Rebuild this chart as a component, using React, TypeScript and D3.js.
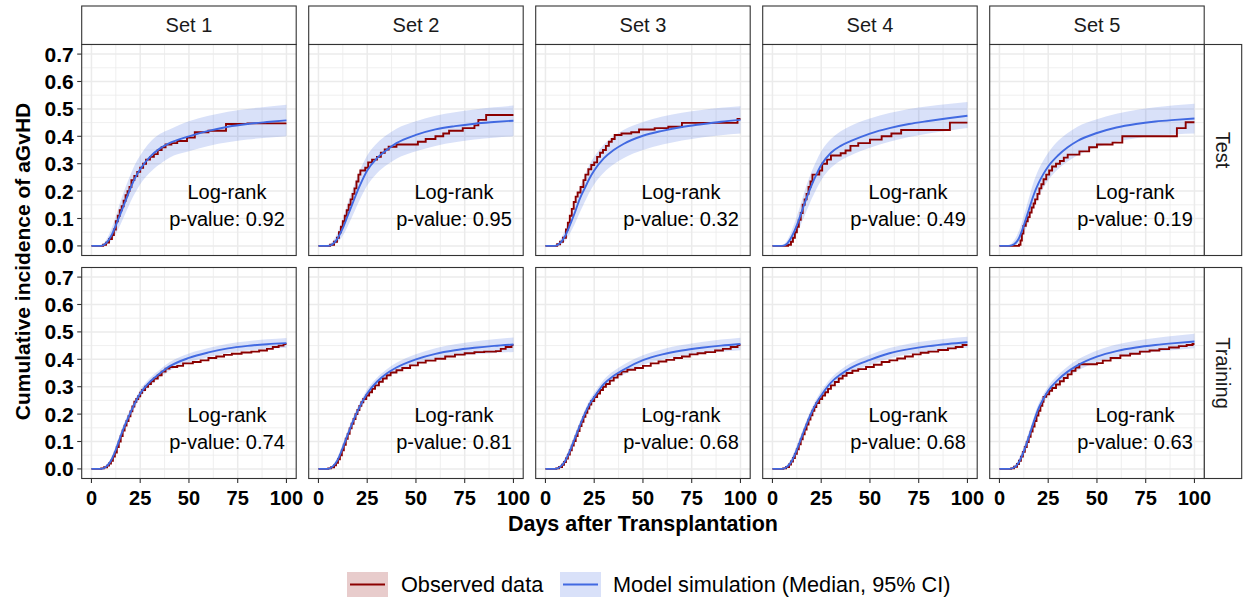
import React from 'react';
import * as d3 from 'd3';

// ---- data ----
const sets = ['Set 1', 'Set 2', 'Set 3', 'Set 4', 'Set 5'];
const rows = ['Test', 'Training'];
const xTicks = [0, 25, 50, 75, 100];
const yTicks = [0, 0.1, 0.2, 0.3, 0.4, 0.5, 0.6, 0.7];

// model simulation grid (days)
const simDays = [0, 5, 7.5, 10, 12.5, 15, 17.5, 20, 22.5, 25, 30, 35, 40, 50, 60, 70, 80, 90, 100];

// Test row: median / 95% CI
const testMed1 = [0, 0, 0.01, 0.035, 0.075, 0.12, 0.165, 0.21, 0.25, 0.28, 0.325, 0.355, 0.375, 0.4, 0.42, 0.435, 0.445, 0.452, 0.458];
const testLo1 = [0, 0, 0.003, 0.018, 0.045, 0.08, 0.12, 0.16, 0.195, 0.225, 0.268, 0.298, 0.322, 0.345, 0.365, 0.378, 0.388, 0.395, 0.4];
const testHi1 = [0, 0.004, 0.022, 0.058, 0.108, 0.165, 0.215, 0.26, 0.3, 0.33, 0.378, 0.408, 0.425, 0.455, 0.475, 0.49, 0.5, 0.508, 0.515];

const testMed2 = [0, 0, 0.008, 0.03, 0.065, 0.11, 0.155, 0.2, 0.24, 0.275, 0.32, 0.35, 0.375, 0.405, 0.425, 0.437, 0.446, 0.452, 0.457];
const testLo2 = [0, 0, 0.002, 0.014, 0.038, 0.072, 0.11, 0.15, 0.188, 0.22, 0.265, 0.295, 0.318, 0.345, 0.365, 0.378, 0.388, 0.395, 0.4];
const testHi2 = [0, 0.004, 0.02, 0.052, 0.1, 0.155, 0.205, 0.255, 0.295, 0.33, 0.375, 0.405, 0.428, 0.455, 0.475, 0.488, 0.498, 0.506, 0.512];

const testMed3 = [0, 0, 0.01, 0.035, 0.075, 0.12, 0.17, 0.208, 0.245, 0.275, 0.32, 0.35, 0.372, 0.402, 0.42, 0.434, 0.444, 0.453, 0.46];
const testLo3 = [0, 0, 0.003, 0.017, 0.045, 0.08, 0.12, 0.158, 0.195, 0.225, 0.268, 0.298, 0.32, 0.35, 0.37, 0.385, 0.396, 0.404, 0.41];
const testHi3 = [0, 0.004, 0.022, 0.058, 0.105, 0.16, 0.21, 0.255, 0.295, 0.325, 0.37, 0.4, 0.423, 0.452, 0.472, 0.486, 0.496, 0.504, 0.51];

const testMed4 = [0, 0, 0.008, 0.035, 0.075, 0.125, 0.175, 0.22, 0.26, 0.295, 0.34, 0.365, 0.382, 0.41, 0.43, 0.445, 0.456, 0.466, 0.475];
const testLo4 = [0, 0, 0.002, 0.017, 0.045, 0.085, 0.128, 0.17, 0.207, 0.24, 0.285, 0.312, 0.33, 0.358, 0.38, 0.397, 0.41, 0.42, 0.43];
const testHi4 = [0, 0.004, 0.02, 0.058, 0.108, 0.165, 0.222, 0.27, 0.31, 0.345, 0.39, 0.418, 0.438, 0.465, 0.485, 0.5, 0.51, 0.518, 0.525];

const testMed5 = [0, 0, 0.006, 0.028, 0.075, 0.13, 0.185, 0.228, 0.262, 0.29, 0.33, 0.36, 0.383, 0.412, 0.432, 0.445, 0.454, 0.46, 0.465];
const testLo5 = [0, 0, 0.001, 0.012, 0.045, 0.09, 0.14, 0.178, 0.212, 0.24, 0.28, 0.308, 0.33, 0.36, 0.38, 0.393, 0.402, 0.407, 0.41];
const testHi5 = [0, 0.004, 0.02, 0.055, 0.11, 0.172, 0.232, 0.278, 0.312, 0.34, 0.383, 0.412, 0.435, 0.462, 0.482, 0.496, 0.506, 0.513, 0.519];

// Training row: median / 95% CI
const trainMed1 = [0, 0, 0.008, 0.03, 0.07, 0.12, 0.165, 0.205, 0.243, 0.275, 0.318, 0.348, 0.374, 0.405, 0.425, 0.44, 0.449, 0.455, 0.459];
const trainLo1 = [0, 0, 0.004, 0.021, 0.058, 0.105, 0.15, 0.19, 0.228, 0.26, 0.303, 0.333, 0.358, 0.389, 0.408, 0.423, 0.432, 0.438, 0.442];
const trainHi1 = [0, 0.002, 0.013, 0.04, 0.083, 0.135, 0.18, 0.22, 0.257, 0.289, 0.332, 0.362, 0.389, 0.421, 0.441, 0.457, 0.466, 0.473, 0.478];

const trainMed2 = [0, 0, 0.01, 0.035, 0.078, 0.125, 0.17, 0.21, 0.245, 0.275, 0.318, 0.348, 0.37, 0.4, 0.42, 0.433, 0.442, 0.449, 0.454];
const trainLo2 = [0, 0, 0.005, 0.025, 0.065, 0.11, 0.155, 0.195, 0.23, 0.26, 0.303, 0.332, 0.354, 0.383, 0.401, 0.412, 0.418, 0.423, 0.427];
const trainHi2 = [0, 0.002, 0.016, 0.046, 0.092, 0.14, 0.185, 0.225, 0.26, 0.29, 0.333, 0.364, 0.387, 0.418, 0.44, 0.455, 0.465, 0.473, 0.48];

const trainMed3 = [0, 0, 0.007, 0.028, 0.065, 0.11, 0.155, 0.198, 0.235, 0.262, 0.31, 0.34, 0.362, 0.397, 0.418, 0.432, 0.442, 0.45, 0.456];
const trainLo3 = [0, 0, 0.003, 0.018, 0.052, 0.095, 0.14, 0.183, 0.22, 0.247, 0.294, 0.323, 0.344, 0.379, 0.399, 0.412, 0.421, 0.428, 0.433];
const trainHi3 = [0, 0.002, 0.014, 0.04, 0.08, 0.126, 0.17, 0.213, 0.25, 0.277, 0.326, 0.357, 0.38, 0.415, 0.437, 0.452, 0.463, 0.472, 0.479];

const trainMed4 = [0, 0, 0.008, 0.03, 0.07, 0.117, 0.163, 0.205, 0.24, 0.268, 0.315, 0.345, 0.368, 0.398, 0.422, 0.437, 0.448, 0.456, 0.462];
const trainLo4 = [0, 0, 0.003, 0.019, 0.056, 0.101, 0.148, 0.19, 0.225, 0.252, 0.299, 0.328, 0.35, 0.379, 0.403, 0.418, 0.428, 0.436, 0.442];
const trainHi4 = [0, 0.002, 0.015, 0.043, 0.085, 0.133, 0.178, 0.22, 0.255, 0.284, 0.331, 0.362, 0.386, 0.417, 0.441, 0.457, 0.468, 0.476, 0.482];

const trainMed5 = [0, 0, 0.005, 0.025, 0.065, 0.115, 0.17, 0.22, 0.255, 0.285, 0.325, 0.355, 0.378, 0.41, 0.43, 0.443, 0.452, 0.459, 0.465];
const trainLo5 = [0, 0, 0.002, 0.015, 0.05, 0.098, 0.153, 0.203, 0.238, 0.268, 0.308, 0.337, 0.358, 0.389, 0.408, 0.42, 0.428, 0.434, 0.44];
const trainHi5 = [0, 0.002, 0.012, 0.038, 0.082, 0.133, 0.188, 0.237, 0.272, 0.302, 0.343, 0.374, 0.398, 0.432, 0.454, 0.468, 0.478, 0.486, 0.493];

// observed cumulative incidence: [day, value] step points
const testObs1: [number, number][] = [[0, 0], [6, 0.004], [7.5, 0.012], [9, 0.025], [10.5, 0.04], [11.5, 0.06], [12.5, 0.09], [13.5, 0.11], [14.5, 0.13], [15.5, 0.145], [16.5, 0.165], [17.5, 0.185], [18.5, 0.2], [19.5, 0.215], [20.5, 0.24], [22, 0.255], [23.5, 0.27], [25, 0.285], [26.5, 0.3], [28, 0.315], [30, 0.325], [32, 0.335], [34, 0.35], [36, 0.36], [38, 0.37], [41, 0.375], [44, 0.383], [49, 0.395], [53, 0.415], [60, 0.42], [69, 0.445], [80, 0.447]];
const testObs2: [number, number][] = [[0, 0], [6, 0.004], [8, 0.015], [9.5, 0.03], [10.5, 0.05], [11.5, 0.07], [12.5, 0.09], [13.5, 0.11], [14.5, 0.13], [15.5, 0.15], [16.5, 0.17], [17.5, 0.19], [18.5, 0.21], [19.5, 0.235], [20.5, 0.26], [21.5, 0.275], [24, 0.285], [25.5, 0.305], [27.5, 0.315], [30, 0.325], [32, 0.34], [34, 0.352], [36, 0.362], [40, 0.37], [51, 0.38], [55, 0.39], [60, 0.4], [64, 0.41], [67, 0.42], [74, 0.43], [80, 0.44], [82, 0.46], [86, 0.478]];
const testObs3: [number, number][] = [[0, 0], [6, 0.006], [7.5, 0.015], [9, 0.03], [10.5, 0.06], [11.5, 0.085], [12.5, 0.11], [13.5, 0.135], [14.5, 0.16], [15.5, 0.18], [16.5, 0.195], [18, 0.215], [19.5, 0.24], [20.5, 0.26], [22, 0.28], [23.5, 0.295], [25, 0.305], [26.5, 0.325], [28, 0.34], [29.5, 0.35], [31, 0.365], [32.5, 0.38], [34, 0.39], [35.5, 0.405], [39, 0.41], [44, 0.415], [48, 0.425], [56, 0.43], [63, 0.435], [70, 0.449], [98.5, 0.463]];
const testObs4: [number, number][] = [[0, 0], [8, 0.004], [9.5, 0.015], [10.5, 0.03], [11.5, 0.05], [12.5, 0.07], [13.5, 0.095], [14.5, 0.12], [15.5, 0.15], [16.5, 0.17], [17.5, 0.19], [18.5, 0.215], [19.5, 0.235], [20.5, 0.26], [24, 0.275], [25.5, 0.3], [28, 0.315], [30, 0.33], [35, 0.338], [37.5, 0.348], [40, 0.365], [44, 0.375], [50, 0.388], [56, 0.4], [61, 0.41], [66, 0.423], [91, 0.45]];
const testObs5: [number, number][] = [[0, 0], [10, 0.004], [10.8, 0.02], [11.5, 0.045], [12.3, 0.073], [13.5, 0.09], [14.5, 0.105], [15.5, 0.122], [16.5, 0.14], [17.5, 0.155], [18.3, 0.17], [19.5, 0.19], [20.5, 0.21], [21.5, 0.225], [22.6, 0.243], [24, 0.26], [25.5, 0.275], [27, 0.29], [29, 0.3], [31, 0.31], [33, 0.322], [35, 0.333], [41, 0.345], [46, 0.36], [50, 0.37], [58, 0.377], [63, 0.4], [91, 0.43], [95.5, 0.451]];

const trainObs1: [number, number][] = [[0, 0], [5, 0.002], [6.5, 0.006], [8, 0.012], [9, 0.02], [10, 0.03], [11, 0.045], [12, 0.06], [13, 0.08], [14, 0.1], [15, 0.12], [16, 0.14], [17, 0.158], [18, 0.175], [19, 0.192], [20, 0.21], [21, 0.228], [22, 0.245], [23, 0.255], [24, 0.265], [25, 0.278], [26, 0.288], [27.5, 0.3], [29, 0.31], [30.5, 0.32], [32, 0.33], [34, 0.342], [36, 0.355], [38, 0.366], [40, 0.372], [44, 0.376], [47, 0.385], [52, 0.39], [56, 0.396], [60, 0.405], [64, 0.41], [68, 0.416], [72, 0.42], [77, 0.425], [82, 0.428], [86, 0.432], [90, 0.438], [93, 0.445], [96, 0.45], [98.5, 0.456]];
const trainObs2: [number, number][] = [[0, 0], [5, 0.002], [6.5, 0.006], [8, 0.013], [9, 0.022], [10, 0.035], [11, 0.05], [12, 0.068], [13, 0.088], [14, 0.11], [15, 0.128], [16, 0.148], [17, 0.165], [18, 0.182], [19, 0.2], [20, 0.215], [21, 0.23], [22, 0.243], [23, 0.255], [24.5, 0.268], [26, 0.28], [27.5, 0.292], [29, 0.305], [31, 0.318], [33, 0.33], [35, 0.342], [37, 0.352], [40, 0.36], [43, 0.368], [47, 0.378], [51, 0.388], [55, 0.395], [60, 0.402], [65, 0.41], [70, 0.417], [75, 0.422], [80, 0.426], [85, 0.428], [91, 0.43], [93.5, 0.438], [96, 0.445], [99, 0.452]];
const trainObs3: [number, number][] = [[0, 0], [5.5, 0.002], [7, 0.007], [8.5, 0.015], [9.5, 0.025], [10.5, 0.038], [11.5, 0.052], [12.5, 0.068], [13.5, 0.085], [14.5, 0.102], [15.5, 0.12], [16.5, 0.138], [17.5, 0.156], [18.5, 0.172], [19.5, 0.19], [20.5, 0.205], [21.5, 0.22], [22.5, 0.235], [23.5, 0.248], [25, 0.262], [26.5, 0.275], [28, 0.288], [29.5, 0.3], [31, 0.31], [33, 0.322], [35, 0.333], [37, 0.345], [39, 0.355], [42, 0.362], [46, 0.368], [50, 0.376], [54, 0.385], [58, 0.392], [62, 0.398], [66, 0.405], [70, 0.41], [74, 0.418], [78, 0.422], [82, 0.426], [87, 0.432], [91, 0.438], [95, 0.445], [98.5, 0.452]];
const trainObs4: [number, number][] = [[0, 0], [5.5, 0.002], [7, 0.007], [8.5, 0.016], [9.5, 0.027], [10.5, 0.04], [11.5, 0.055], [12.5, 0.072], [13.5, 0.09], [14.5, 0.108], [15.5, 0.126], [16.5, 0.144], [17.5, 0.162], [18.5, 0.18], [19.5, 0.196], [20.5, 0.212], [21.5, 0.226], [22.5, 0.24], [24, 0.255], [25.5, 0.268], [27, 0.28], [28.5, 0.292], [30, 0.305], [32, 0.317], [34, 0.33], [36, 0.34], [38, 0.35], [41, 0.358], [44, 0.364], [48, 0.372], [52, 0.38], [56, 0.39], [60, 0.396], [64, 0.403], [68, 0.41], [72, 0.418], [76, 0.424], [80, 0.428], [85, 0.434], [90, 0.44], [94, 0.445], [97.5, 0.452]];
const trainObs5: [number, number][] = [[0, 0], [6, 0.002], [7.5, 0.008], [9, 0.018], [10, 0.03], [11, 0.045], [12, 0.062], [13, 0.08], [14, 0.098], [15, 0.117], [16, 0.136], [17, 0.155], [18, 0.175], [19, 0.195], [20, 0.212], [21, 0.23], [22, 0.245], [22.6, 0.263], [24, 0.272], [25.5, 0.285], [27, 0.295], [29, 0.308], [31, 0.32], [33, 0.332], [35, 0.345], [37, 0.358], [39, 0.37], [41, 0.382], [50, 0.386], [53, 0.395], [57, 0.405], [62, 0.414], [67, 0.42], [72, 0.428], [77, 0.432], [82, 0.437], [87, 0.443], [92, 0.448], [96, 0.452], [99, 0.456]];

const testPValues = ['0.92', '0.95', '0.32', '0.49', '0.19'];
const trainPValues = ['0.74', '0.81', '0.68', '0.68', '0.63'];

const testMed = [testMed1, testMed2, testMed3, testMed4, testMed5];
const testLo = [testLo1, testLo2, testLo3, testLo4, testLo5];
const testHi = [testHi1, testHi2, testHi3, testHi4, testHi5];
const testObs = [testObs1, testObs2, testObs3, testObs4, testObs5];
const trainMed = [trainMed1, trainMed2, trainMed3, trainMed4, trainMed5];
const trainLo = [trainLo1, trainLo2, trainLo3, trainLo4, trainLo5];
const trainHi = [trainHi1, trainHi2, trainHi3, trainHi4, trainHi5];
const trainObs = [trainObs1, trainObs2, trainObs3, trainObs4, trainObs5];

// ---- layout ----
const W = 1243;
const H = 598;
const panelLeft = 81.7;
const panelStep = 227;
const panelW = 214.5;
const rowTop = [44.5, 267.5];
const panelH = 211;
const stripTop = 6;
const stripRightW = 37.5;

const FONT = '"Liberation Sans", Arial, Helvetica, sans-serif';
const OBS_COL = '#8B0000';
const SIM_COL = '#4169E1';
const GRID = '#ebebeb';
const DARK = '#333333';

const Panel = ({ col, row }: { col: number; row: number }) => {
  const x0 = panelLeft + col * panelStep;
  const y0 = rowTop[row];
  const x = d3.scaleLinear().domain([-5, 105]).range([x0, x0 + panelW]);
  const y = d3.scaleLinear().domain([-0.035, 0.735]).range([y0 + panelH, y0]);

  const med = row === 0 ? testMed[col] : trainMed[col];
  const lo = row === 0 ? testLo[col] : trainLo[col];
  const hi = row === 0 ? testHi[col] : trainHi[col];
  const obsRaw = row === 0 ? testObs[col] : trainObs[col];
  const obs: [number, number][] = [...obsRaw, [100, obsRaw[obsRaw.length - 1][1]]];
  const p = row === 0 ? testPValues[col] : trainPValues[col];

  const idx = simDays.map((_, i) => i);
  const ribbon = d3.area<number>()
    .x(i => x(simDays[i]))
    .y0(i => y(lo[i]))
    .y1(i => y(hi[i]))
    .curve(d3.curveMonotoneX)(idx);
  const medLine = d3.line<number>()
    .x(i => x(simDays[i]))
    .y(i => y(med[i]))
    .curve(d3.curveMonotoneX)(idx);
  const obsLine = d3.line<[number, number]>()
    .x(d => x(d[0]))
    .y(d => y(d[1]))
    .curve(d3.curveStepAfter)(obs);

  const minorX = [12.5, 37.5, 62.5, 87.5];
  const minorY = [0.05, 0.15, 0.25, 0.35, 0.45, 0.55, 0.65];

  const textX = x(69.5);
  const textY = y(0.172);

  return (
    <g>
      <rect x={x0} y={y0} width={panelW} height={panelH} fill="white" />
      {minorX.map(v => (
        <line key={'mx' + v} x1={x(v)} x2={x(v)} y1={y0} y2={y0 + panelH} stroke={GRID} strokeWidth={0.8} />
      ))}
      {minorY.map(v => (
        <line key={'my' + v} x1={x0} x2={x0 + panelW} y1={y(v)} y2={y(v)} stroke={GRID} strokeWidth={0.8} />
      ))}
      {xTicks.map(v => (
        <line key={'gx' + v} x1={x(v)} x2={x(v)} y1={y0} y2={y0 + panelH} stroke={GRID} strokeWidth={1.5} />
      ))}
      {yTicks.map(v => (
        <line key={'gy' + v} x1={x0} x2={x0 + panelW} y1={y(v)} y2={y(v)} stroke={GRID} strokeWidth={1.5} />
      ))}
      <path d={ribbon || ''} fill={SIM_COL} fillOpacity={0.2} />
      <path d={obsLine || ''} fill="none" stroke={OBS_COL} strokeWidth={1.9} />
      <path d={medLine || ''} fill="none" stroke={SIM_COL} strokeWidth={1.9} />
      <text x={textX} y={textY} textAnchor="middle" fontSize={20} fill="#000">Log-rank</text>
      <text x={textX} y={textY + 27.4} textAnchor="middle" fontSize={20} fill="#000">{`p-value: ${p}`}</text>
      <rect x={x0} y={y0} width={panelW} height={panelH} fill="none" stroke={DARK} strokeWidth={1.1} />
      {col === 0 && yTicks.map(v => (
        <g key={'yt' + v}>
          <line x1={x0 - 4.5} x2={x0} y1={y(v)} y2={y(v)} stroke={DARK} strokeWidth={1.1} />
          <text x={x0 - 8} y={y(v)} dy="0.36em" textAnchor="end" fontSize={21} fontWeight="bold" fill="#000">{v.toFixed(1)}</text>
        </g>
      ))}
      {row === 1 && xTicks.map(v => (
        <g key={'xt' + v}>
          <line x1={x(v)} x2={x(v)} y1={y0 + panelH} y2={y0 + panelH + 4.5} stroke={DARK} strokeWidth={1.1} />
          <text x={x(v)} y={y0 + panelH + 26.5} textAnchor="middle" fontSize={20} fontWeight="bold" fill="#000">{v}</text>
        </g>
      ))}
    </g>
  );
};

export default function App() {
  const panelsRight = panelLeft + 4 * panelStep + panelW;
  const plotCenterX = (panelLeft + panelsRight) / 2;
  const plotCenterY = (rowTop[0] + rowTop[1] + panelH) / 2;

  const keyW = 41;
  const keyH = 25;
  const keyY = 572;
  const key1X = 347;
  const key2X = 560;

  return (
    <svg width={W} height={H} style={{ position: 'absolute', left: 0, top: 0, background: 'white' }} fontFamily={FONT}>
      <rect width={W} height={H} fill="white" />
      {sets.map((s, c) => {
        const sx = panelLeft + c * panelStep;
        return (
          <g key={s}>
            <rect x={sx} y={stripTop} width={panelW} height={rowTop[0] - stripTop} fill="white" stroke={DARK} strokeWidth={1.1} />
            <text x={sx + panelW / 2} y={(stripTop + rowTop[0]) / 2} dy="0.36em" textAnchor="middle" fontSize={20} fill="#1a1a1a">{s}</text>
          </g>
        );
      })}
      {rows.map((r, ri) => {
        const cy = rowTop[ri] + panelH / 2;
        return (
          <g key={r}>
            <rect x={panelsRight} y={rowTop[ri]} width={stripRightW} height={panelH} fill="white" stroke={DARK} strokeWidth={1.1} />
            <text transform={`translate(${panelsRight + stripRightW / 2},${cy}) rotate(90)`} dy="0.36em" textAnchor="middle" fontSize={20} fill="#1a1a1a">{r}</text>
          </g>
        );
      })}
      {rows.map((_, ri) => sets.map((__, c) => <Panel key={ri + '-' + c} col={c} row={ri} />))}
      <text transform={`translate(30,${plotCenterY}) rotate(-90)`} textAnchor="middle" fontSize={21} fontWeight="bold" fill="#000">Cumulative incidence of aGvHD</text>
      <text x={plotCenterX} y={531} textAnchor="middle" fontSize={21.5} fontWeight="bold" fill="#000">Days after Transplantation</text>

      <rect x={key1X} y={keyY} width={keyW} height={keyH} fill={OBS_COL} fillOpacity={0.2} />
      <line x1={key1X + 3} x2={key1X + keyW - 3} y1={keyY + keyH / 2} y2={keyY + keyH / 2} stroke={OBS_COL} strokeWidth={1.9} />
      <text x={key1X + keyW + 13} y={keyY + keyH / 2} dy="0.36em" fontSize={21.7} fill="#000">Observed data</text>
      <rect x={key2X} y={keyY} width={keyW} height={keyH} fill={SIM_COL} fillOpacity={0.2} />
      <line x1={key2X + 3} x2={key2X + keyW - 3} y1={keyY + keyH / 2} y2={keyY + keyH / 2} stroke={SIM_COL} strokeWidth={1.9} />
      <text x={key2X + keyW + 12} y={keyY + keyH / 2} dy="0.36em" fontSize={21.7} fill="#000">Model simulation (Median, 95% CI)</text>
    </svg>
  );
}
